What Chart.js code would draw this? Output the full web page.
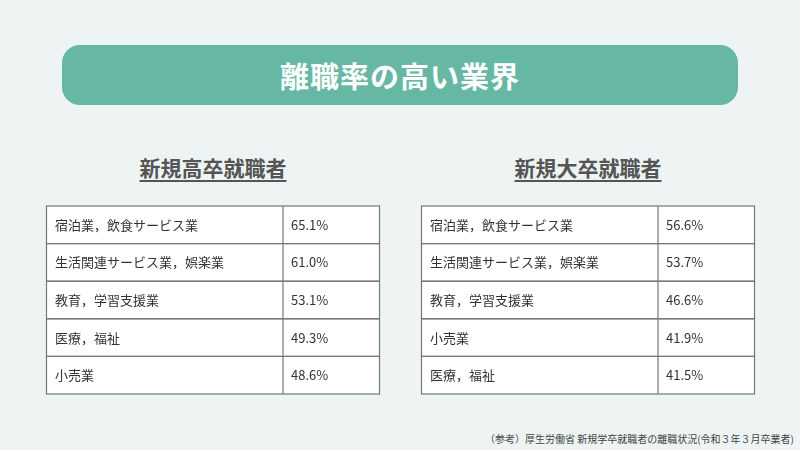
<!DOCTYPE html>
<html><head><meta charset="utf-8">
<script src="https://cdn.jsdelivr.net/npm/chart.js@4"></script>
<style>
body{margin:0;width:800px;height:450px;background:#eef4f4;position:relative;overflow:hidden;font-family:"Noto Sans CJK JP",sans-serif;}
#title{position:absolute;left:62px;top:45px;width:676px;height:60px;background:#66b8a5;border-radius:18px;color:#fff;font-size:29px;font-weight:bold;text-align:center;line-height:60px;letter-spacing:1px;}
.h{position:absolute;top:152px;font-size:21px;font-weight:bold;color:#555;text-decoration:underline;text-underline-offset:4px;text-decoration-thickness:2px;text-align:center;width:336px;}
.c{position:absolute;top:205px;width:336px;height:190px;}
#src{position:absolute;right:6px;top:431px;font-size:10px;color:#444;}
</style></head><body>
<div id="title">離職率の高い業界</div>
<div class="h" style="left:45px">新規高卒就職者</div>
<div class="h" style="left:420px">新規大卒就職者</div>
<div class="c" style="left:45px"><canvas id="c1"></canvas></div>
<div class="c" style="left:420px"><canvas id="c2"></canvas></div>
<div id="src">（参考）厚生労働省 新規学卒就職者の離職状況(令和３年３月卒業者)</div>
<script>
const highCats=["宿泊業，飲食サービス業","生活関連サービス業，娯楽業","教育，学習支援業","医療，福祉","小売業"];
const highVals=[65.1,61.0,53.1,49.3,48.6];
const univCats=["宿泊業，飲食サービス業","生活関連サービス業，娯楽業","教育，学習支援業","小売業","医療，福祉"];
const univVals=[56.6,53.7,46.6,41.9,41.5];
const tablePlugin={id:'tbl',beforeDatasetsDraw(ch){
  const c=ch.ctx,a=ch.chartArea,y=ch.scales.y,n=ch.data.labels.length;
  const step=(a.bottom-a.top)/n, split=a.left+237;
  c.save();
  c.fillStyle='#fff';c.fillRect(a.left,a.top,a.right-a.left,a.bottom-a.top);
  c.strokeStyle='#777';c.lineWidth=1.2;
  c.font='13px "Noto Sans CJK JP"';c.fillStyle='#333';c.textBaseline='middle';
  ch.data.labels.forEach((l,i)=>{
    const cy=y.getPixelForValue(i);
    c.strokeRect(a.left+0.5,cy-step/2,a.right-a.left-1,step);
    c.fillText(l,a.left+9,cy);
    c.fillText(ch.data.datasets[0].data[i].toFixed(1)+'%',split+8,cy);
  });
  c.beginPath();c.moveTo(split,a.top);c.lineTo(split,a.bottom);c.stroke();
  c.restore();
}};
function mk(id,cats,vals){
  new Chart(document.getElementById(id),{type:'bar',
    data:{labels:cats,datasets:[{data:vals,backgroundColor:'rgba(0,0,0,0)'}]},
    options:{indexAxis:'y',responsive:true,maintainAspectRatio:false,animation:false,
      layout:{padding:1},
      plugins:{legend:{display:false},tooltip:{enabled:false}},
      scales:{x:{display:false,min:0,max:100},y:{display:false}}},
    plugins:[tablePlugin]});
}
mk('c1',highCats,highVals);mk('c2',univCats,univVals);
</script></body></html>
